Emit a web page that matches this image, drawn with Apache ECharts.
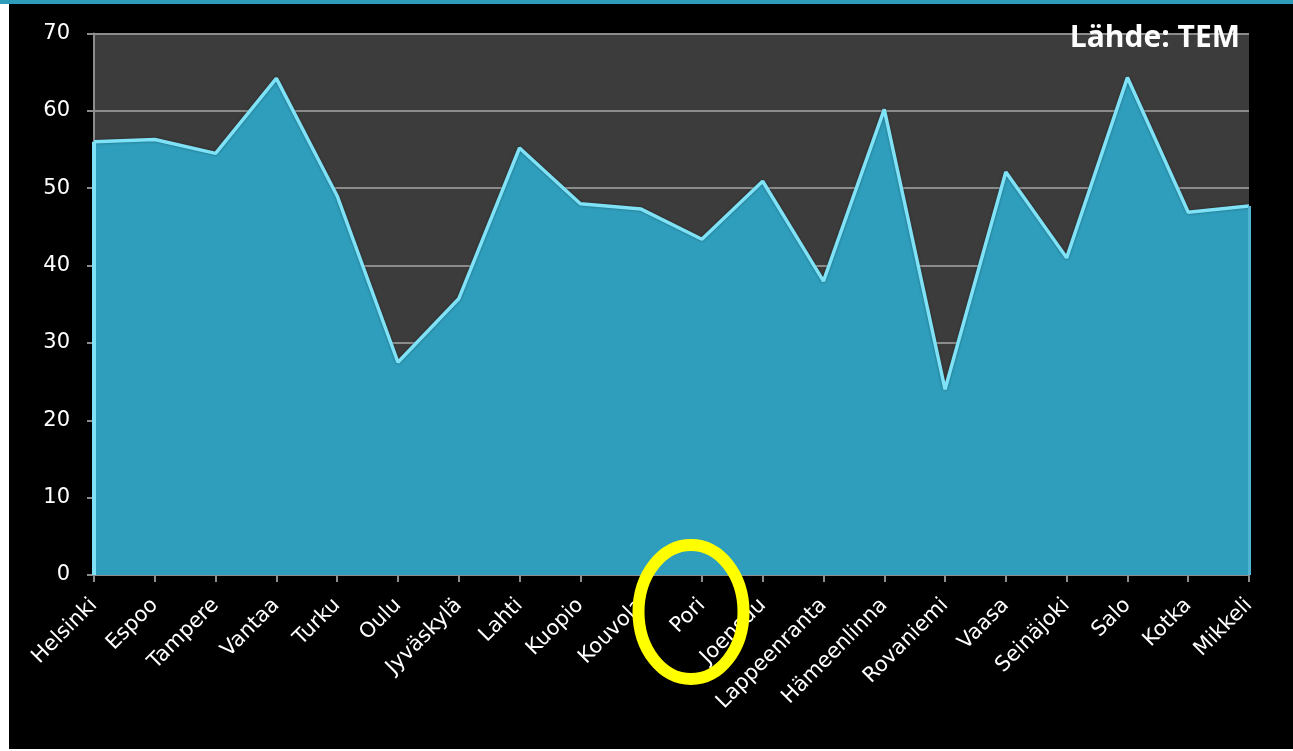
<!DOCTYPE html>
<html>
<head>
<meta charset="utf-8">
<script src="https://cdn.jsdelivr.net/npm/echarts@6/dist/echarts.min.js"></script>
<style>
html,body{margin:0;padding:0;background:#ffffff;}
#frame{position:absolute;left:0;top:0;width:1293px;height:751px;background:#ffffff;}
#stripe{position:absolute;left:0;top:0;width:1293px;height:4px;background:#2e9cbb;}
#box{position:absolute;left:9px;top:4px;width:1284px;height:745px;background:#000000;}
#chart{position:absolute;left:0;top:0;width:1293px;height:751px;}
</style>
</head>
<body>
<div id="frame"><div id="stripe"></div><div id="box"></div></div>
<div id="chart"></div>
<script>
const categories = ["Helsinki","Espoo","Tampere","Vantaa","Turku","Oulu","Jyväskylä","Lahti","Kuopio","Kouvola","Pori","Joensuu","Lappeenranta","Hämeenlinna","Rovaniemi","Vaasa","Seinäjoki","Salo","Kotka","Mikkeli"];
const values = [56, 56.3, 54.5, 64.2, 49, 27.5, 35.7, 55.2, 48, 47.3, 43.4, 50.9, 38, 60.2, 24, 52.1, 41, 64.3, 46.9, 47.7];
const yTicks = [0, 10, 20, 30, 40, 50, 60, 70];
const sourceText = "Lähde: TEM";

const chart = echarts.init(document.getElementById('chart'), null, {renderer: 'canvas'});
const font = "'DejaVu Sans', 'Open Sans', sans-serif";
const last = categories.length - 1;
chart.setOption({
  backgroundColor: 'transparent',
  animation: false,
  grid: {left: 94, right: 44, top: 33.5, bottom: 176, show: true, backgroundColor: '#3c3c3c', borderWidth: 0},
  title: {
    text: sourceText, right: 48, top: 18,
    textStyle: {color: '#ffffff', fontSize: 30, fontWeight: 'bold', fontFamily: "'Open Sans', 'DejaVu Sans', sans-serif"}
  },
  xAxis: {
    type: 'category', data: categories, boundaryGap: false,
    axisLine: {show: true, lineStyle: {color: '#8c8c8c', width: 2}},
    axisTick: {show: true, alignWithLabel: true, length: 7, lineStyle: {color: '#8c8c8c', width: 2}},
    axisLabel: {color: '#ffffff', fontSize: 21, rotate: 45, margin: 27, interval: 0, fontFamily: font},
    splitLine: {show: false}
  },
  yAxis: {
    type: 'value', min: yTicks[0], max: yTicks[yTicks.length - 1], interval: 10,
    axisLine: {show: true, lineStyle: {color: '#8c8c8c', width: 2}},
    axisTick: {show: true, length: 7, lineStyle: {color: '#8c8c8c', width: 2}},
    axisLabel: {color: '#ffffff', fontSize: 21, margin: 24, fontFamily: font},
    splitLine: {show: true, lineStyle: {color: '#8c8c8c', width: 2}}
  },
  series: [{
    type: 'line', data: values, symbol: 'none',
    lineStyle: {color: '#7fe2f6', width: 3.5, shadowColor: 'rgba(0,0,0,0.35)', shadowBlur: 3},
    areaStyle: {color: '#2f9ebc', opacity: 1},
    z: 3,
    markLine: {
      silent: true, symbol: 'none', label: {show: false},
      lineStyle: {type: 'solid', color: '#7fe2f6', width: 4},
      data: [
        [{coord: [0, 0]}, {coord: [0, values[0]]}],
        [{coord: [last, 0], lineStyle: {color: '#4fb4d2', width: 3}}, {coord: [last, values[last]]}]
      ]
    }
  }],
  graphic: [{
    type: 'ellipse', z: 100,
    shape: {cx: 691, cy: 612, rx: 52.5, ry: 67},
    style: {fill: 'none', stroke: '#ffff00', lineWidth: 12}
  }]
});
</script>
</body>
</html>
